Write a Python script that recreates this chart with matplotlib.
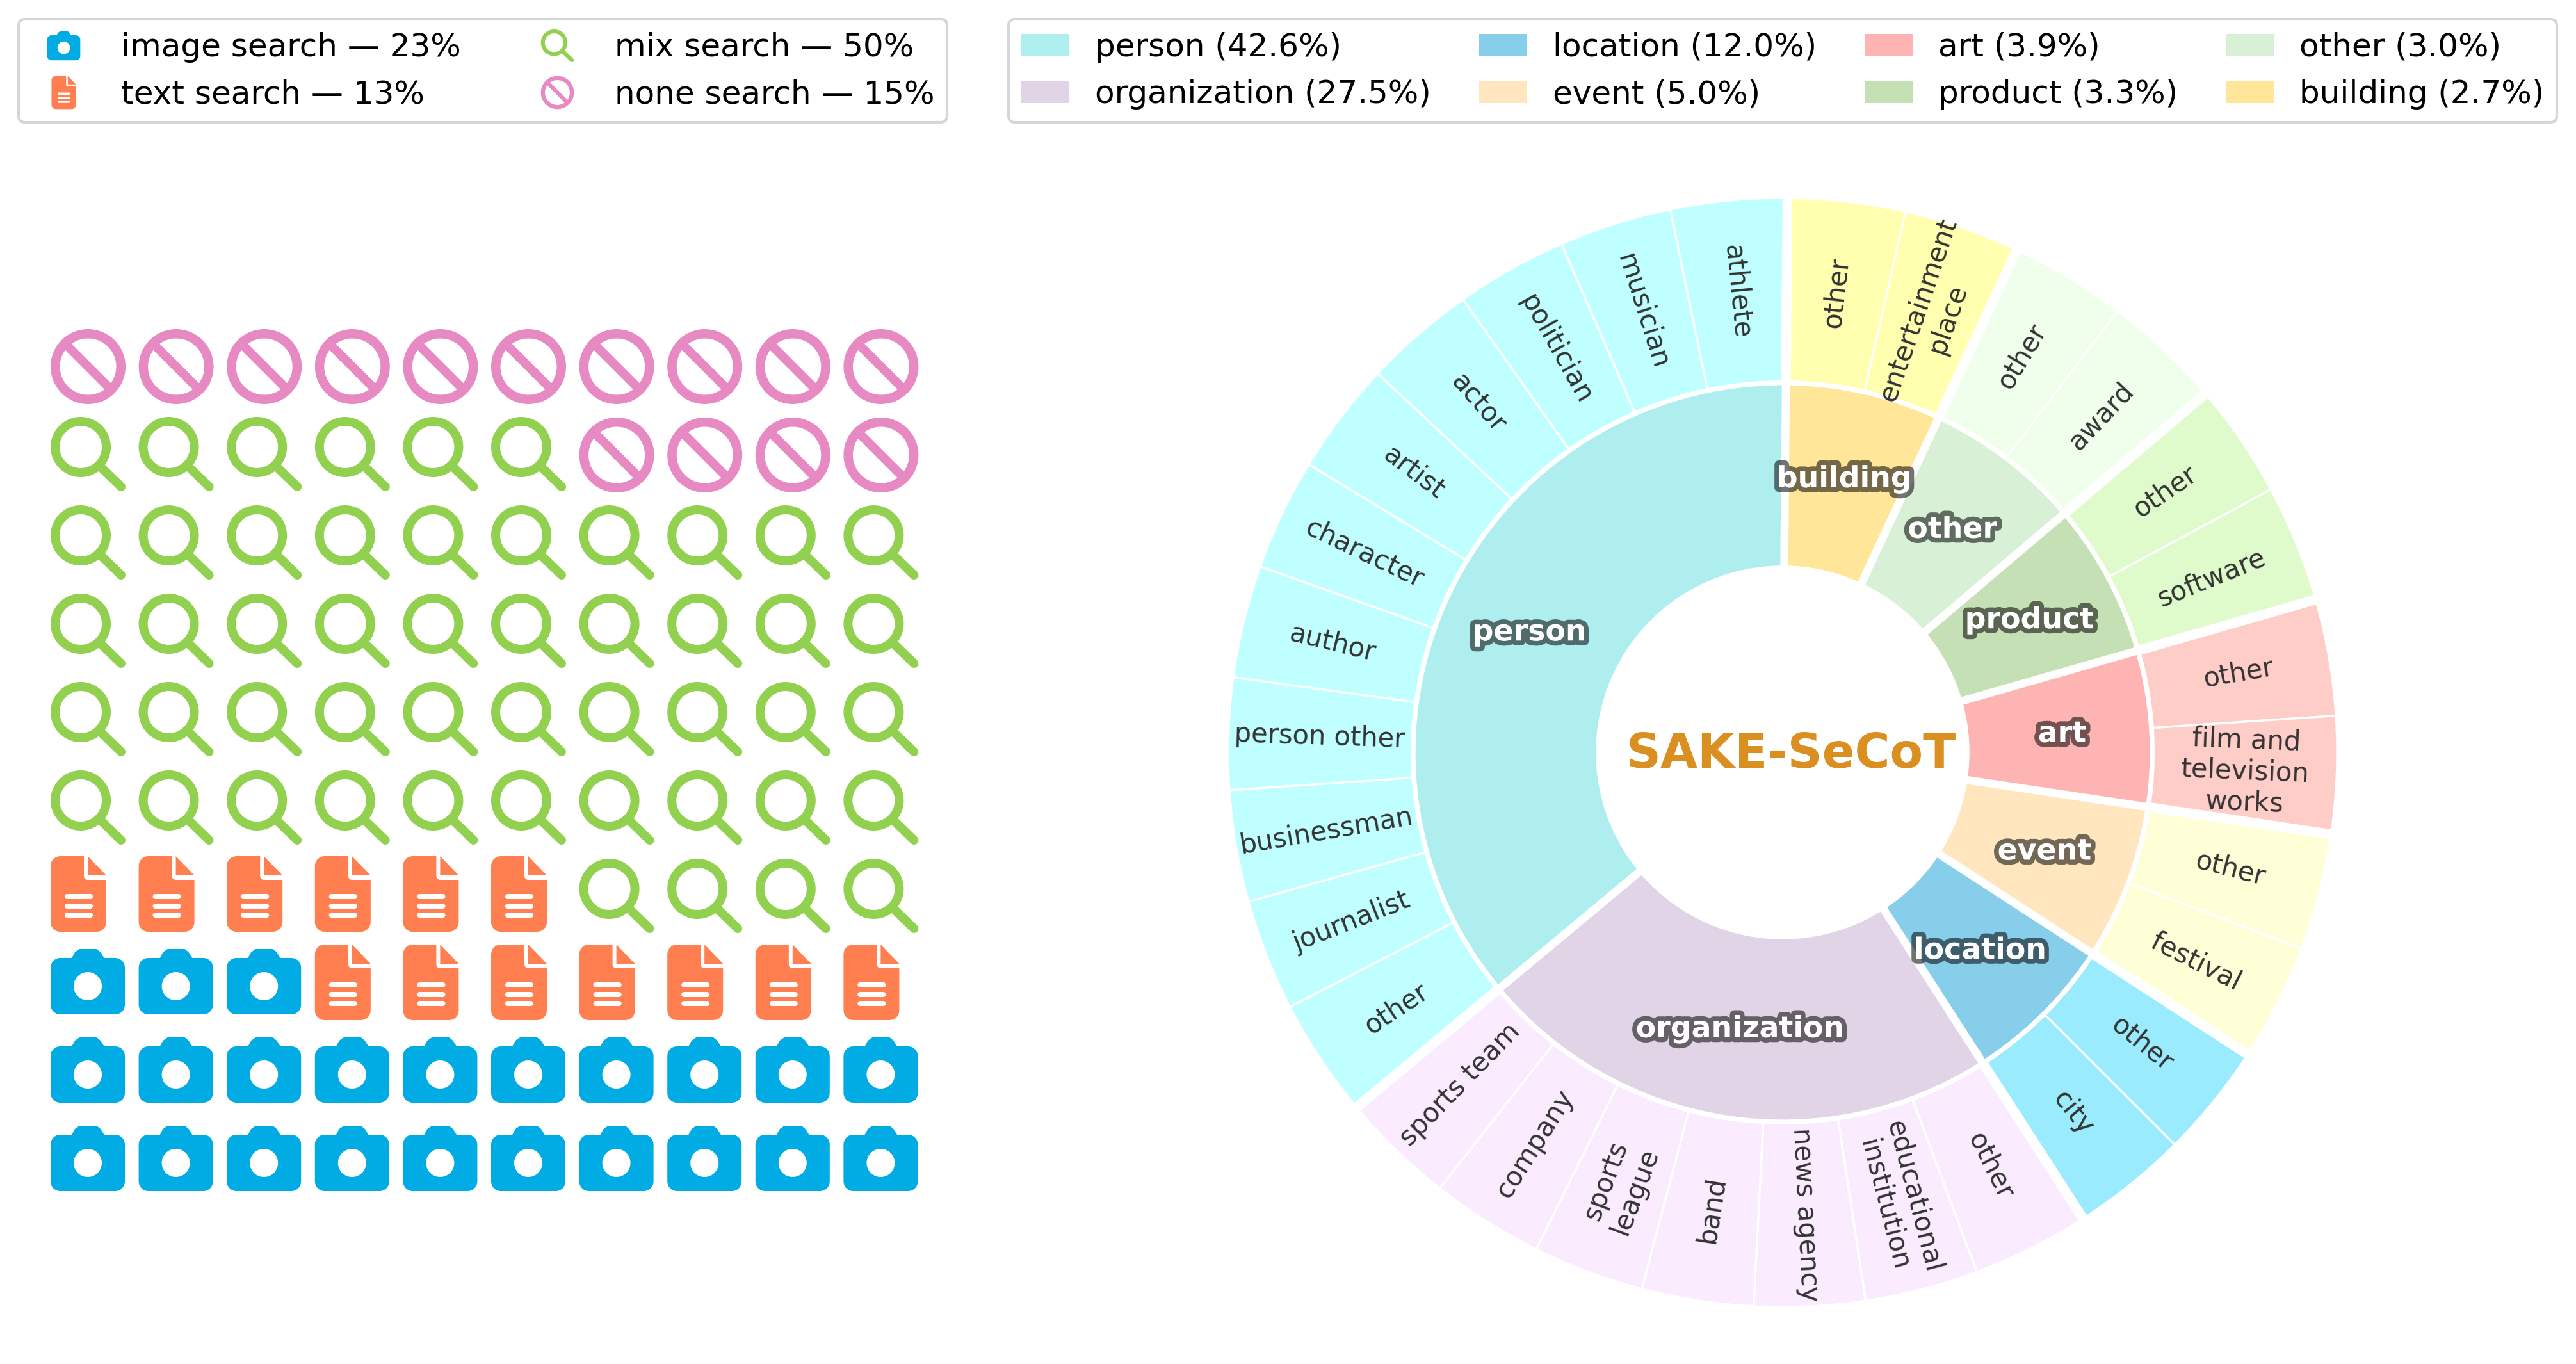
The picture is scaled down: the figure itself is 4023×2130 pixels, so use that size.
import numpy as np
import matplotlib
matplotlib.use('Agg')
import matplotlib.pyplot as plt
import matplotlib.patheffects as pe
from matplotlib.lines import Line2D
from matplotlib.patches import Patch, PathPatch
from matplotlib.path import Path
from matplotlib.transforms import Affine2D

# Waffle data
search_names = ['image search', 'text search', 'mix search', 'none search']
search_counts = [23, 13, 50, 15]
search_colors = ['#00ACE3', '#FF7F50', '#92D050', '#E78AC3']

# Inner ring, clockwise from the top
group_names = ['building', 'other', 'product', 'art', 'event', 'location', 'organization', 'person']
group_colors = ['#FFE699', '#D8F0D6', '#C5E0B4', '#FFB4B4', '#FFE6BE', '#87CEEB', '#E0D4E6', '#AFEEEE']
child_colors = ['#FFFFAF', '#F0FFEB', '#DFFBCC', '#FFCDC8', '#FFFFD7', '#9BEBFF', '#FAEBFF', '#BFFFFF']

# Outer ring, sizes
building_children = ['other', 'entertainment\nplace']
building_sizes = [12.3, 12.2]
other_children = ['other', 'award']
other_sizes = [12.2, 12.5]
product_children = ['other', 'software']
product_sizes = [12.0, 12.3]
art_children = ['other', 'film and\ntelevision\nworks']
art_sizes = [12.2, 12.3]
event_children = ['other', 'festival']
event_sizes = [12.2, 12.3]
location_children = ['other', 'city']
location_sizes = [12.0, 12.2]
organization_children = ['other', 'educational\ninstitution', 'news agency', 'band', 'sports\nleague', 'company', 'sports team']
organization_sizes = [12.3, 11.9, 11.6, 11.7, 11.7, 11.8, 12.0]
person_children = ['other', 'journalist', 'businessman', 'person other', 'author', 'character', 'artist', 'actor', 'politician', 'musician', 'athlete']
person_sizes = [12.5, 11.7, 11.7, 11.7, 11.8, 11.7, 11.8, 11.7, 11.7, 11.8, 12.2]

# Legend entries
legend_groups = ['person', 'organization', 'location', 'event', 'art', 'product', 'other', 'building']
legend_shares = [42.6, 27.5, 12.0, 5.0, 3.9, 3.3, 3.0, 2.7]

all_children = [building_children, other_children, product_children, art_children,
                event_children, location_children, organization_children, person_children]
all_sizes = [building_sizes, other_sizes, product_sizes, art_sizes,
             event_sizes, location_sizes, organization_sizes, person_sizes]

W, H = 4023, 2130
fig = plt.figure(figsize=(W / 300, H / 300), dpi=300)


def px_axes(left, top, right, bottom):
    return fig.add_axes([left / W, 1 - bottom / H, (right - left) / W, (bottom - top) / H])


def arc(cx, cy, r, a0, a1, n=40):
    t = np.radians(np.linspace(a0, a1, n))
    return np.column_stack([cx + r * np.cos(t), cy + r * np.sin(t)])


def circle(cx, cy, r, hole=False):
    return arc(cx, cy, r, 360, 0, 90) if hole else arc(cx, cy, r, 0, 360, 90)


def round_rect(x0, y0, x1, y1, r):
    return np.vstack([arc(x1 - r, y0 + r, r, -90, 0, 10), arc(x1 - r, y1 - r, r, 0, 90, 10),
                      arc(x0 + r, y1 - r, r, 90, 180, 10), arc(x0 + r, y0 + r, r, 180, 270, 10)])


def compound(*polys):
    verts, codes = [], []
    for p in polys:
        p = np.asarray(p, dtype=float)
        verts += list(p) + [p[0]]
        codes += [Path.MOVETO] + [Path.LINETO] * (len(p) - 1) + [Path.CLOSEPOLY]
    return Path(np.array(verts), codes)


def camera_icon():
    body = round_rect(0, 0, 116, 88, 15)
    hump = [(32, 86), (85, 86), (78, 97), (72, 102), (45, 102), (38, 97)]
    return compound(body, hump, circle(58, 44, 22, hole=True))


def doc_icon():
    body = np.vstack([arc(15, 15, 15, 180, 270, 10), arc(72, 15, 15, 270, 360, 10),
                      [(87, 81), (58, 81)], arc(58, 87, 6, 270, 180, 6),
                      [(52, 118), (15, 118)], arc(15, 103, 15, 90, 180, 8)])
    corner = [(58, 118), (87, 88), (58, 88)]
    lines = [round_rect(22, y - 4, 66, y + 4, 4)[::-1] for y in (55, 40, 26)]
    return compound(body, corner, *lines)


def mix_icon():
    c = (47, 69)
    d = np.array([1, -1]) / np.sqrt(2)
    n = np.array([1, 1]) / np.sqrt(2)
    start = np.array(c) + d * 41
    end = np.array([110, 7])
    cap = arc(end[0], end[1], 7, -135, 45, 12)
    handle = np.vstack([start - n * 7, cap, start + n * 7])
    return compound(circle(*c, 47), circle(*c, 33, hole=True), handle)


def ban_icon():
    c = np.array([58.5, 58.5])
    d = np.array([1, -1]) / np.sqrt(2)
    n = np.array([1, 1]) / np.sqrt(2)
    bar = [c - d * 50 - n * 7, c + d * 50 - n * 7, c + d * 50 + n * 7, c - d * 50 + n * 7]
    return compound(circle(*c, 58.5), circle(*c, 44, hole=True), bar)


icons = [camera_icon(), doc_icon(), mix_icon(), ban_icon()]
icon_drop = [0, 9, 11, 13]

# Waffle, filled row by row from the bottom left
ax_w = px_axes(79, 480, 79 + 1376, 1860)
ax_w.set_xlim(0, 10)
ax_w.set_ylim(0, 10)
ax_w.axis('off')
cells = [i for i, n in enumerate(search_counts) for _ in range(n)][:100]
for k, kind in enumerate(cells):
    row, col = divmod(k, 10)
    tr = Affine2D().translate(0, -icon_drop[kind]).scale(1 / 137.6, 1 / 138).translate(col, row)
    ax_w.add_patch(PathPatch(icons[kind], transform=tr + ax_w.transData, facecolor=search_colors[kind],
                             edgecolor='none', lw=0, clip_on=False))


def centered(path):
    b = path.get_extents()
    return path.transformed(Affine2D().translate(-(b.x0 + b.x1) / 2, -(b.y0 + b.y1) / 2))


handles = [Line2D([], [], linestyle='none', marker=centered(p), markersize=12.4, color=c,
                  markeredgewidth=0, label=f'{n} — {v}%')
           for p, c, n, v in zip(icons, search_colors, search_names, search_counts)]
fig.legend(handles=handles, ncol=2, fontsize=12, numpoints=1, loc='upper left',
           bbox_to_anchor=(29 / W, 1 - 30 / H), borderaxespad=0)

patches = [Patch(facecolor=group_colors[group_names.index(n)], label=f'{n} ({v}%)')
           for n, v in zip(legend_groups, legend_shares)]
fig.legend(handles=patches, ncol=4, fontsize=12, handlelength=1.5, columnspacing=1.5, loc='upper left',
           bbox_to_anchor=(1575 / W, 1 - 30 / H), borderaxespad=0)

# Nested donut
R = 866
cx, cy = 2784, 1175
lim = 1.05
start = 89.5
ax = px_axes(cx - lim * R, cy - lim * R, cx + lim * R, cy + lim * R)

inner_sizes = [sum(s) for s in all_sizes]
outer_sizes = [v for s in all_sizes for v in s]
outer_names = [v for s in all_children for v in s]
outer_colors = [child_colors[i] for i, s in enumerate(all_sizes) for _ in s]

inner_wedges, _ = ax.pie(inner_sizes, radius=0.664, colors=group_colors, startangle=start, counterclock=False,
                         wedgeprops=dict(width=0.329, edgecolor='white', linewidth=0.8))
outer_wedges, _ = ax.pie(outer_sizes, radius=1.0, colors=outer_colors, startangle=start, counterclock=False,
                         wedgeprops=dict(width=0.331, edgecolor='white', linewidth=0.8))
ax.set_xlim(-lim, lim)
ax.set_ylim(-lim, lim)
ax.set_aspect('equal')

# White gaps between the groups
for w in inner_wedges:
    a = np.radians(w.theta1)
    ax.plot([0.3 * np.cos(a), 0.67 * np.cos(a)], [0.3 * np.sin(a), 0.67 * np.sin(a)],
            color='white', lw=3, solid_capstyle='butt')
    ax.plot([0.67 * np.cos(a), 1.02 * np.cos(a)], [0.67 * np.sin(a), 1.02 * np.sin(a)],
            color='white', lw=3.7, solid_capstyle='butt')

for w, name in zip(inner_wedges, group_names):
    a = np.radians((w.theta1 + w.theta2) / 2)
    ax.text(0.505 * np.cos(a), 0.505 * np.sin(a), name, ha='center', va='center',
            fontsize=11, fontweight='bold', color='white',
            path_effects=[pe.withStroke(linewidth=3.6, foreground='black', alpha=0.55)])

for w, name in zip(outer_wedges, outer_names):
    mid = (w.theta1 + w.theta2) / 2
    a = np.radians(mid)
    rot = mid + 180 if np.cos(a) < 0 else mid
    ax.text(0.835 * np.cos(a), 0.835 * np.sin(a), name, ha='center', va='center',
            fontsize=10, color='#333333', rotation=rot, rotation_mode='anchor', multialignment='center')

ax.text(0.015, -0.004, 'SAKE-SeCoT', ha='center', va='center', fontsize=18, fontweight='bold', color='#DA9020')

fig.savefig('out.png', dpi=300)
